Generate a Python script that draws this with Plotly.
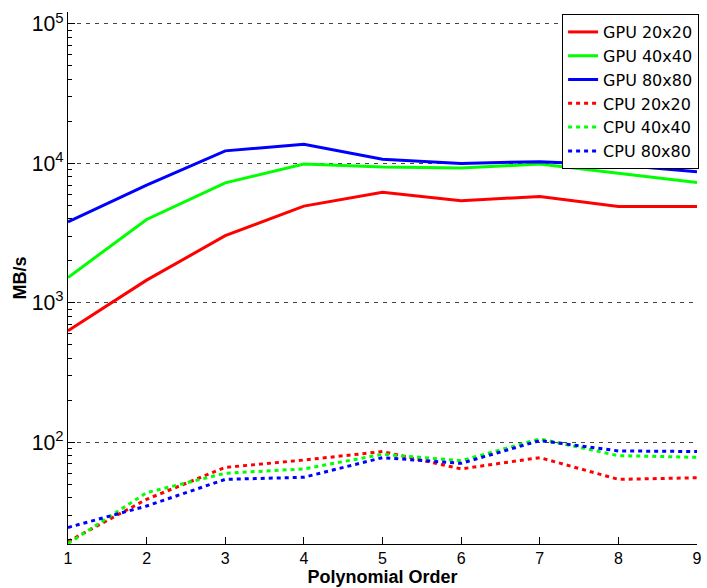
import plotly.graph_objects as go

orders = [1, 2, 3, 4, 5, 6, 7, 8, 9]

gpu_20 = [630, 1455, 3030, 4940, 6220, 5390, 5800, 4910, 4910]
gpu_40 = [1520, 3960, 7260, 9890, 9410, 9260, 9890, 8480, 7310]
gpu_80 = [3810, 6990, 12300, 13700, 10700, 10000, 10300, 9730, 8710]
cpu_20 = [19.4, 39, 66, 74.6, 85.8, 64.4, 77.6, 54.2, 55.7]
cpu_40 = [18.8, 43.5, 60, 64.4, 82, 73.8, 105.6, 80.2, 78]
cpu_80 = [24.5, 34.9, 54.2, 56.1, 77.6, 70.6, 102.8, 86.7, 85.8]

series = [
    ("GPU 20x20", gpu_20, "#ff0000", "solid"),
    ("GPU 40x40", gpu_40, "#00ff00", "solid"),
    ("GPU 80x80", gpu_80, "#0000ff", "solid"),
    ("CPU 20x20", cpu_20, "#ff0000", "4px,4px"),
    ("CPU 40x40", cpu_40, "#00ff00", "4px,4px"),
    ("CPU 80x80", cpu_80, "#0000ff", "4px,4px"),
]

minor_ticks = [m * 10 ** e for e in range(1, 5) for m in range(2, 10)]
y_range = [1.2704, 5.086]

fig = go.Figure()
for name, vals, color, dash in series:
    fig.add_trace(go.Scatter(
        x=orders, y=vals, name=name, mode="lines",
        line=dict(color=color, width=3, dash=dash),
    ))

# invisible helper trace so the minor-tick axis is rendered
fig.add_trace(go.Scatter(
    x=orders, y=cpu_20, yaxis="y2", mode="lines", opacity=0,
    showlegend=False, hoverinfo="skip", line=dict(width=0),
))

font_family = "Liberation Sans, Arial, Helvetica, sans-serif"

fig.update_layout(
    width=707, height=588,
    margin=dict(l=68, r=5, t=12, b=44),
    paper_bgcolor="white", plot_bgcolor="white",
    font=dict(family=font_family, size=16, color="black"),
    legend=dict(
        x=0.7855, y=0.9962, xanchor="left", yanchor="top",
        bgcolor="white", bordercolor="black", borderwidth=1,
        font=dict(size=16, family="DejaVu Sans, Liberation Sans, sans-serif", color="black"),
        tracegroupgap=0, itemwidth=30,
    ),
    showlegend=True,
    yaxis2=dict(
        type="log", range=y_range, overlaying="y", side="left", anchor="x",
        tickmode="array", tickvals=minor_ticks, showticklabels=False,
        ticks="inside", ticklen=4, tickcolor="black",
        showgrid=False, showline=False, zeroline=False,
    ),
)

fig.update_xaxes(
    range=[1, 9], dtick=1, tick0=1,
    ticks="inside", ticklen=7, tickcolor="black",
    showline=True, linecolor="black", linewidth=1,
    showgrid=False, zeroline=False,
    title=dict(text="<b>Polynomial Order</b>", font=dict(size=18), standoff=0),
    tickfont=dict(size=16),
)

fig.layout.yaxis.update(
    type="log", range=y_range, dtick=1,
    exponentformat="power",
    ticks="inside", ticklen=7, tickcolor="black",
    showline=True, linecolor="black", linewidth=1,
    showgrid=True, gridcolor="#444", gridwidth=1, griddash="4px,5px",
    zeroline=False,
    title=dict(text="<b>MB/s</b>", font=dict(size=18), standoff=0),
    tickfont=dict(size=17),
)

fig.write_html("out.html")
